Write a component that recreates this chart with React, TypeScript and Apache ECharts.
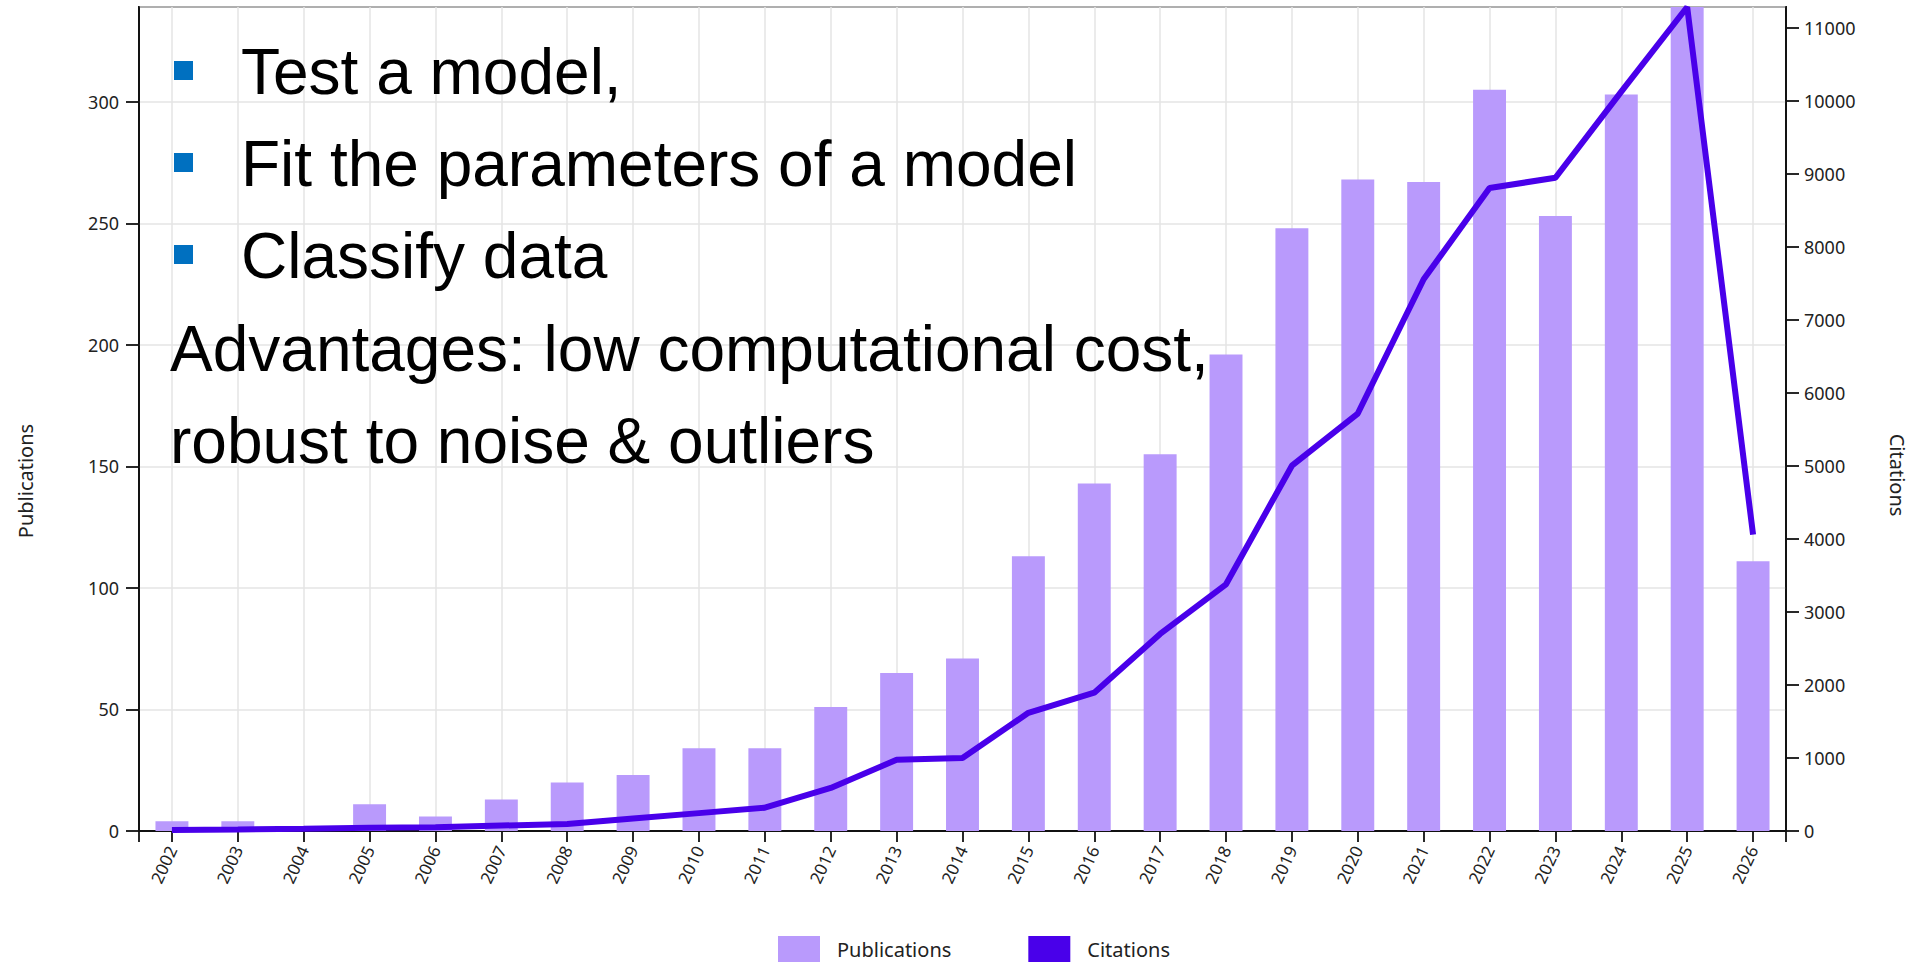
import React, { useEffect, useRef } from 'react';
import * as echarts from 'echarts';

const years = ['2002', '2003', '2004', '2005', '2006', '2007', '2008', '2009', '2010', '2011', '2012', '2013', '2014', '2015', '2016', '2017', '2018', '2019', '2020', '2021', '2022', '2023', '2024', '2025', '2026'];
const publications = [4, 4, 2, 11, 6, 13, 20, 23, 34, 34, 51, 65, 71, 113, 143, 155, 196, 248, 268, 267, 305, 253, 303, 339, 111];
const citations = [15, 20, 30, 45, 50, 75, 95, 170, 245, 320, 590, 975, 1000, 1620, 1895, 2700, 3380, 5005, 5720, 7560, 8810, 8950, 10130, 11290, 4060];
const bulletLines = ['Test a model,', 'Fit the parameters of a model', 'Classify data'];
const noteLines = ['Advantages: low computational cost,', 'robust to noise & outliers'];
const seriesNames = ['Publications', 'Citations'];

const W = 1915;
const H = 962;
const GRID_LEFT = 139;
const GRID_RIGHT = 129;
const GRID_TOP = 7;
const GRID_BOTTOM = 131;
const BAR_COLOR = '#b99afc';
const LINE_COLOR = '#4900ea';
const AXIS_COLOR = '#111';
const TEXT_COLOR = '#222';
const GRID_COLOR = '#e5e5e5';
const FONT = '"Noto Sans", sans-serif';
const BIG_FONT = '"Liberation Sans", Arial, sans-serif';

export default function App() {
  const ref = useRef<HTMLDivElement>(null);

  useEffect(() => {
    document.body.style.margin = '0';
    if (!ref.current) return;
    const chart = echarts.init(ref.current, null, { renderer: 'svg' });

    const pubMax = Math.max(...publications);
    const citMax = Math.max(...citations);
    const axisBottom = H - GRID_BOTTOM;
    const axisRight = W - GRID_RIGHT;

    const graphic: any[] = [];
    // outer ticks of the x axis
    [GRID_LEFT, axisRight].forEach((x) => {
      graphic.push({
        type: 'line',
        shape: { x1: x, y1: axisBottom, x2: x, y2: axisBottom + 11 },
        style: { stroke: AXIS_COLOR, lineWidth: 1.8 },
        z: 50,
      });
    });
    // overlay text
    const bulletTop = [61, 153, 245];
    const bulletBase = [94, 186, 278];
    bulletLines.forEach((t, i) => {
      graphic.push({
        type: 'rect',
        shape: { x: 174, y: bulletTop[i], width: 19, height: 19 },
        style: { fill: '#0070c0' },
        z: 100,
      });
      graphic.push({
        type: 'text',
        x: 241,
        y: bulletBase[i] - 22,
        style: { text: t, fontSize: 64, fontFamily: BIG_FONT, fill: '#000', verticalAlign: 'middle', align: 'left' },
        z: 100,
      });
    });
    const noteBase = [371, 463];
    noteLines.forEach((t, i) => {
      graphic.push({
        type: 'text',
        x: 170,
        y: noteBase[i] - 22,
        style: { text: t, fontSize: 64, fontFamily: BIG_FONT, fill: '#000', verticalAlign: 'middle', align: 'left' },
        z: 100,
      });
    });
    graphic.push({
      type: 'text',
      x: 25,
      y: 481,
      rotation: Math.PI / 2,
      style: { text: 'Publications', fontSize: 20, fontFamily: FONT, fill: TEXT_COLOR, align: 'center', verticalAlign: 'middle' },
    });
    graphic.push({
      type: 'text',
      x: 1897,
      y: 475,
      rotation: -Math.PI / 2,
      style: { text: 'Citations', fontSize: 20, fontFamily: FONT, fill: TEXT_COLOR, align: 'center', verticalAlign: 'middle' },
    });

    chart.setOption({
      animation: false,
      backgroundColor: '#fff',
      textStyle: { fontFamily: FONT },
      grid: {
        left: GRID_LEFT,
        right: GRID_RIGHT,
        top: GRID_TOP,
        bottom: GRID_BOTTOM,
        show: true,
        borderColor: AXIS_COLOR,
        borderWidth: 1.8,
        containLabel: false,
      },
      legend: {
        left: 773,
        top: 931,
        icon: 'rect',
        itemWidth: 42,
        itemHeight: 26,
        itemGap: 77,
        textStyle: { fontSize: 20, color: TEXT_COLOR, fontFamily: FONT, padding: [0, 0, 0, 12] },
        data: seriesNames,
      },
      xAxis: {
        type: 'category',
        data: years,
        boundaryGap: true,
        axisLine: { show: true, lineStyle: { color: AXIS_COLOR, width: 1.8 } },
        axisTick: { show: true, alignWithLabel: true, length: 11, lineStyle: { color: AXIS_COLOR, width: 1.8 } },
        axisLabel: { rotate: 65, fontSize: 17, color: TEXT_COLOR, margin: 16, interval: 0, fontFamily: FONT },
        splitLine: { show: true, alignWithLabel: true, interval: 0, lineStyle: { color: GRID_COLOR, width: 1.5 } },
      },
      yAxis: [
        {
          type: 'value',
          position: 'left',
          min: 0,
          max: pubMax,
          interval: 50,
          axisLine: { show: true, lineStyle: { color: AXIS_COLOR, width: 1.8 } },
          axisTick: { show: true, length: 13, lineStyle: { color: AXIS_COLOR, width: 1.8 } },
          axisLabel: { fontSize: 18, color: TEXT_COLOR, margin: 20, showMaxLabel: false, fontFamily: FONT },
          splitLine: { show: true, lineStyle: { color: GRID_COLOR, width: 1.5 } },
        },
        {
          type: 'value',
          position: 'right',
          min: 0,
          max: citMax,
          interval: 1000,
          axisLine: { show: true, lineStyle: { color: AXIS_COLOR, width: 1.8 } },
          axisTick: { show: true, length: 13, lineStyle: { color: AXIS_COLOR, width: 1.8 } },
          axisLabel: {
            fontSize: 18,
            color: TEXT_COLOR,
            margin: 18,
            showMaxLabel: false,
            fontFamily: FONT,
            formatter: (v: number) => String(v),
          },
          splitLine: { show: false },
        },
      ],
      series: [
        {
          name: seriesNames[0],
          type: 'bar',
          yAxisIndex: 0,
          data: publications,
          barWidth: '50%',
          itemStyle: { color: BAR_COLOR },
          z: 2,
        },
        {
          name: seriesNames[1],
          type: 'line',
          yAxisIndex: 1,
          data: citations,
          symbol: 'none',
          showSymbol: false,
          lineStyle: { color: LINE_COLOR, width: 6 },
          itemStyle: { color: LINE_COLOR },
          z: 3,
        },
      ],
      graphic,
    });

    return () => {
      chart.dispose();
    };
  }, []);

  return <div ref={ref} style={{ width: W, height: H }} />;
}
